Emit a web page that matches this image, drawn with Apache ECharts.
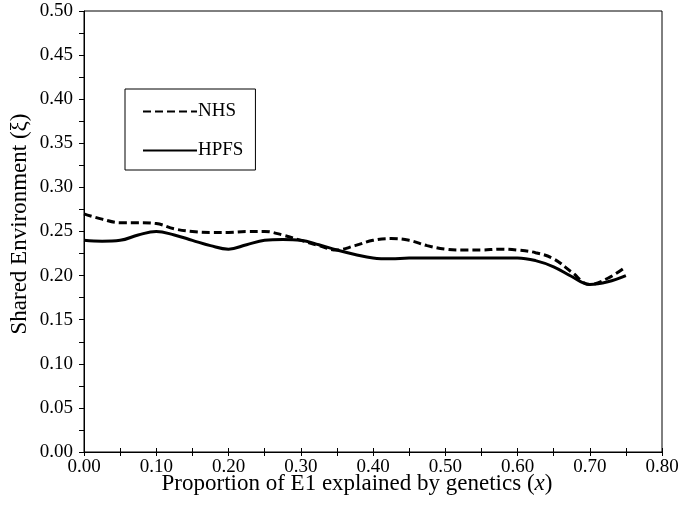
<!DOCTYPE html>
<html><head><meta charset="utf-8">
<script src="https://cdn.jsdelivr.net/npm/echarts@6/dist/echarts.min.js"></script>
<style>html,body{margin:0;padding:0;background:#fff}#c{width:679px;height:523px}</style>
</head><body><div id="c"></div>
<script>
var xValues = [0.000,0.025,0.050,0.075,0.100,0.125,0.150,0.175,0.200,0.225,0.250,0.275,0.300,0.325,0.350,0.375,
               0.400,0.425,0.450,0.475,0.500,0.525,0.550,0.575,0.600,0.625,0.650,0.675,0.700,0.725,0.750];
var nhs  = [0.270,0.264,0.260,0.260,0.259,0.253,0.250,0.249,0.249,0.250,0.250,0.246,0.240,0.234,0.229,0.234,
            0.240,0.242,0.240,0.234,0.230,0.229,0.229,0.230,0.229,0.226,0.219,0.204,0.190,0.197,0.210];
var hpfs = [0.240,0.239,0.240,0.246,0.250,0.246,0.240,0.234,0.230,0.235,0.240,0.241,0.240,0.235,0.229,0.224,
            0.220,0.219,0.220,0.220,0.220,0.220,0.220,0.220,0.220,0.217,0.210,0.199,0.190,0.193,0.200];
var seriesNames = ['NHS','HPFS'];
var yTitle = 'Shared Environment (\u03BE)';
var xTitleMain = 'Proportion of E1 explained by genetics ';

function pairs(arr){ return arr.map(function(v,i){ return [xValues[i], v]; }); }
var font = 'Liberation Serif';
var chart = echarts.init(document.getElementById('c'));
chart.setOption({
  animation:false,
  backgroundColor:'#fff',
  grid:{left:84,right:17,top:11,bottom:71,show:true,borderColor:'#000',borderWidth:1,
        containLabel:false, outerBoundsMode:'none'},
  legend:{
    orient:'vertical', left:125, top:89, data:seriesNames,
    borderColor:'#000', borderWidth:1, padding:[13,12,10,17], itemGap:20,
    itemWidth:54, itemHeight:14,
    itemStyle:{opacity:0},
    textStyle:{fontFamily:font,fontSize:19,color:'#000',padding:[0,0,0,-4]}
  },
  xAxis:[{
    type:'value', min:0, max:0.8, interval:0.1,
    axisLine:{lineStyle:{color:'#000',width:1}},
    axisTick:{show:true,length:4,lineStyle:{color:'#000'}},
    minorTick:{show:true,splitNumber:2,length:4,lineStyle:{color:'#000'}},
    splitLine:{show:false},
    axisLabel:{fontFamily:font,fontSize:19,color:'#000',margin:6,formatter:function(v){return v.toFixed(2);}}
  },{
    type:'value', min:0, max:0.8, interval:0.1, position:'bottom',
    axisLine:{show:false},
    axisTick:{show:true,inside:true,length:4,lineStyle:{color:'#000'}},
    minorTick:{show:true,splitNumber:2,length:4,lineStyle:{color:'#000'}},
    splitLine:{show:false}, axisLabel:{show:false}
  }],
  yAxis:{
    type:'value', min:0, max:0.5, interval:0.05,
    axisLine:{show:true,lineStyle:{color:'#000',width:1}},
    axisTick:{show:true,length:5,lineStyle:{color:'#000'}},
    minorTick:{show:true,splitNumber:2,length:5,lineStyle:{color:'#000'}},
    splitLine:{show:false},
    axisLabel:{fontFamily:font,fontSize:19,color:'#000',margin:11,formatter:function(v){return v.toFixed(2);}}
  },
  graphic:[
    {type:'text', x:20, y:224, rotation:Math.PI/2,
     style:{text:yTitle, font:'23px "Liberation Serif"', fill:'#000', align:'center', verticalAlign:'middle'}},
    {type:'text', x:357, y:484,
     style:{text:'{a|'+xTitleMain+'(}{b|x}{a|)}', align:'center', verticalAlign:'middle',
       rich:{a:{fontFamily:font,fontSize:23,fill:'#000'},b:{fontFamily:font,fontSize:23,fontStyle:'italic',fill:'#000'}}}}
  ],
  series:[
    {name:'NHS', type:'line', data:pairs(nhs), smooth:0.4, symbol:'none',
     lineStyle:{color:'#000',width:3,type:[8,4]}, itemStyle:{color:'#000'}},
    {name:'HPFS', type:'line', data:pairs(hpfs), smooth:0.4, symbol:'none',
     lineStyle:{color:'#000',width:3,type:'solid'}, itemStyle:{color:'#000'}}
  ]
});
</script></body></html>
